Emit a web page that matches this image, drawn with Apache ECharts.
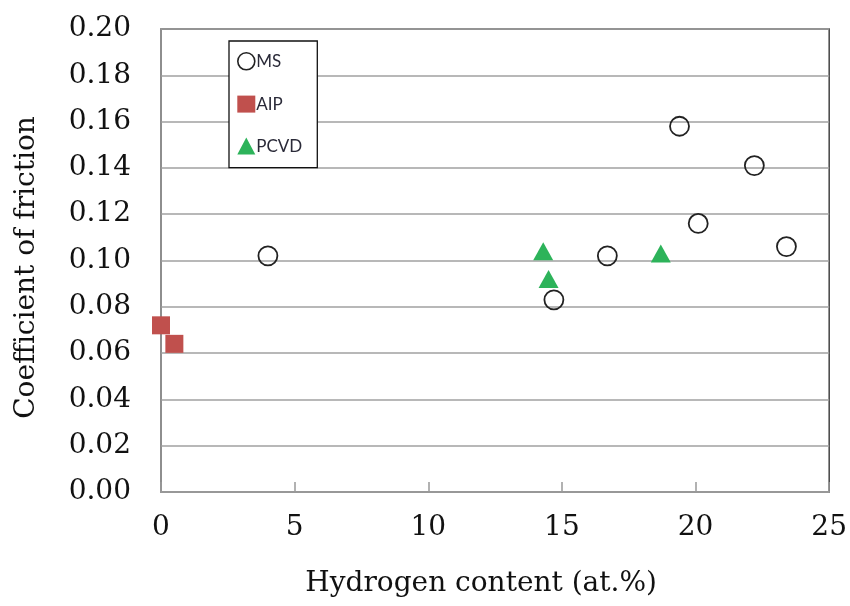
<!DOCTYPE html>
<html>
<head>
<meta charset="utf-8">
<script src="https://cdn.jsdelivr.net/npm/echarts@6/dist/echarts.min.js"></script>
<style>
  html, body { margin: 0; padding: 0; background: #fff; }
  #chart { width: 850px; height: 606px; }
</style>
</head>
<body>
<div id="chart"></div>
<script>
// Hydrogen content (at.%) vs. coefficient of friction, by deposition method
const msHydrogen = [4.0, 14.7, 16.7, 19.4, 20.1, 22.2, 23.4];
const msFriction = [0.102, 0.083, 0.102, 0.158, 0.116, 0.141, 0.106];

const aipHydrogen = [0.0, 0.5];
const aipFriction = [0.072, 0.064];

const pcvdHydrogen = [14.3, 14.5, 18.7];
const pcvdFriction = [0.104, 0.092, 0.103];

const xTicks = [0, 5, 10, 15, 20, 25];
const yTicks = [0, 0.02, 0.04, 0.06, 0.08, 0.10, 0.12, 0.14, 0.16, 0.18, 0.20];

const pairs = (xs, ys) => xs.map((x, i) => [x, ys[i]]);

const serif = 'DejaVu Serif';
const chart = echarts.init(document.getElementById('chart'));

chart.setOption({
  animation: false,
  backgroundColor: '#fff',
  grid: {
    left: 161, right: 20, top: 29, bottom: 114,
    show: true, borderColor: '#444', borderWidth: 1.5,
    backgroundColor: 'transparent'
  },
  legend: {
    orient: 'vertical',
    left: 229, top: 41,
    padding: [11, 15, 13, 8],
    itemGap: 25,
    itemWidth: 18, itemHeight: 17,
    borderColor: '#111', borderWidth: 1.3,
    backgroundColor: '#fff',
    textStyle: { fontFamily: 'Lato', fontSize: 17, color: '#2a2a38', padding: [0, 0, 0, -4] },
    data: [
      { name: 'MS', icon: 'circle', itemStyle: { color: '#fff', borderColor: '#222', borderWidth: 1.6 } },
      { name: 'AIP', icon: 'rect' },
      { name: 'PCVD', icon: 'triangle' }
    ]
  },
  xAxis: {
    type: 'value',
    min: 0, max: 25, interval: 5,
    name: 'Hydrogen content (at.%)',
    nameLocation: 'middle',
    nameGap: 78,
    nameTextStyle: { fontFamily: serif, fontSize: 28, color: '#111', padding: [0, 28, 0, 0] },
    axisLine: { show: true, lineStyle: { color: '#999', width: 1.5 } },
    axisTick: { show: true, inside: true, length: 10, lineStyle: { color: '#999', width: 1.5 } },
    axisLabel: {
      margin: 22, fontFamily: serif, fontSize: 28, color: '#111',
      formatter: v => xTicks.includes(v) ? String(v) : ''
    },
    splitLine: { show: false }
  },
  yAxis: {
    type: 'value',
    min: 0, max: 0.2, interval: 0.02,
    name: 'Coefficient of friction',
    nameLocation: 'middle',
    nameGap: 120,
    nameTextStyle: { fontFamily: serif, fontSize: 28, color: '#111', padding: [0, 14, 0, 0] },
    axisLine: { show: true, lineStyle: { color: '#999', width: 1.5 } },
    axisTick: { show: false },
    axisLabel: {
      margin: 30, fontFamily: serif, fontSize: 28, color: '#111',
      formatter: v => {
        const t = yTicks.find(k => Math.abs(k - v) < 1e-9);
        return t === undefined ? '' : t.toFixed(2);
      }
    },
    splitLine: { show: true, lineStyle: { color: '#a0a0a0', width: 1.5 } }
  },
  series: [
    {
      name: 'MS', type: 'scatter',
      data: pairs(msHydrogen, msFriction),
      symbol: 'circle', symbolSize: 19,
      itemStyle: { color: 'rgba(255,255,255,0)', borderColor: '#222', borderWidth: 1.8, opacity: 1 },
      z: 3
    },
    {
      name: 'AIP', type: 'scatter',
      data: pairs(aipHydrogen, aipFriction),
      symbol: 'rect', symbolSize: 18,
      itemStyle: { color: '#C0504D', opacity: 1 },
      z: 3
    },
    {
      name: 'PCVD', type: 'scatter',
      data: pairs(pcvdHydrogen, pcvdFriction),
      symbol: 'triangle', symbolSize: [20, 18],
      itemStyle: { color: '#2DB35A', opacity: 1 },
      z: 3
    }
  ]
});
</script>
</body>
</html>
